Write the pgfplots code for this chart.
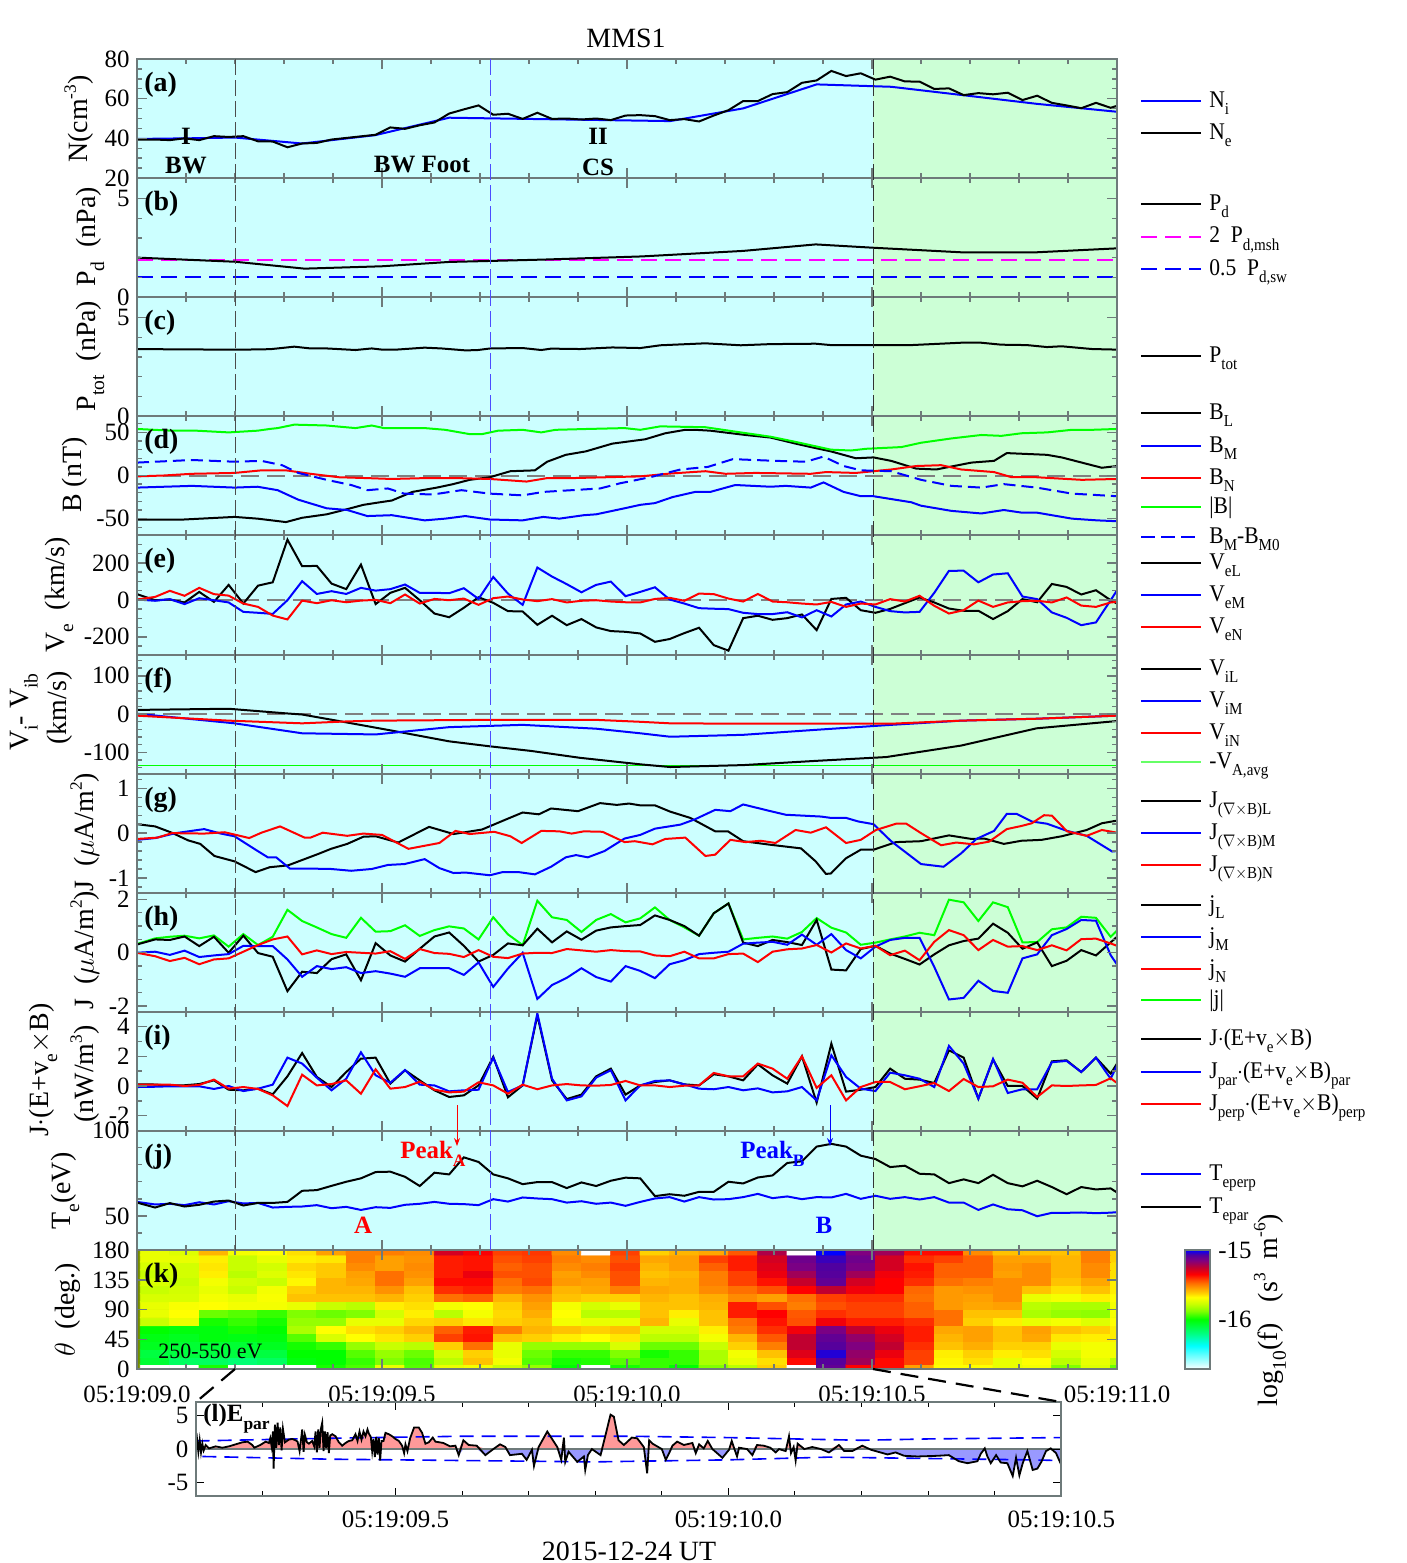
\documentclass[border=0pt]{standalone}
\usepackage{fontspec}
\setmainfont{Liberation Serif}
\usepackage{pgfplots}
\usepackage{pgfplotstable}
\pgfplotsset{compat=1.18}
\usepgfplotslibrary{colormaps}
\usetikzlibrary{arrows.meta}

\definecolor{mshc}{RGB}{204,255,255}
\definecolor{mshg}{RGB}{204,255,214}
\definecolor{axisc}{RGB}{110,122,122}
\definecolor{pinkf}{RGB}{255,153,153}
\definecolor{bluef}{RGB}{153,153,255}
\definecolor{mag}{RGB}{255,0,255}

\newcommand\sub[1]{\raisebox{-.32em}{\scalebox{.7}{#1}}}
\newcommand\sups[1]{\raisebox{.42em}{\scalebox{.62}{#1}}}
\newcommand\lab{\fontsize{14}{16}\selectfont}
\newcommand\txt{\fontsize{12.5}{14}\selectfont}
\newcommand\tkf{\fontsize{12.5}{14}\selectfont}
\newcommand\legf{\fontsize{12}{14}\selectfont}
\newcommand\leg[3]{\draw[#2,line width=1bp] (1141,#1)--(1201,#1);
  \node[anchor=base west,inner sep=0pt,font=\legf] at (1209,#1+6) {\scalebox{.9}[1]{#3}};}
\newcommand\ylab[3]{\node[rotate=90,inner sep=0pt,font=\lab] at (#1,#2) {#3};}
\newcommand\plab[2]{\node[anchor=west,inner sep=0pt,font=\lab\bfseries] at (144,#1+2) {#2};}
\newcommand\greenbg{\fill[mshg] (rel axis cs:0.7515,0) rectangle (rel axis cs:1,1);}
\newcommand\zeroline{\draw[gray,line width=1bp,dash pattern=on 9bp off 4bp] (axis cs:0,0)--(axis cs:2,0);}

\pgfplotsset{
  panel/.style={scale only axis,width=490bp,xmin=0,xmax=2,anchor=south west,
    xtick={0,0.5,1,1.5,2},xticklabels={},
    minor xtick={0.1,0.2,0.3,0.4,0.6,0.7,0.8,0.9,1.1,1.2,1.3,1.4,1.6,1.7,1.8,1.9},
    tick align=inside,major tick length=5bp,minor tick length=2.5bp,
    tick style={color=axisc,line width=.7bp},
    axis line style={color=axisc,line width=1bp},
    axis on top,
    yticklabel style={font=\tkf,inner sep=2bp,xshift=-1.5bp},
    axis background/.style={fill=mshc}},
  kk/.style={line width=1bp,black},
  bb/.style={line width=1bp,blue},
  rr/.style={line width=1bp,red},
  gg/.style={line width=1bp,green},
}

% electron moments and currents, 30 ms cadence
\pgfplotstableread{
t Ne VeL VeM VeN jL jM jN jt JE Jpar Jperp Tperp Tpar
0.000 39.4 31 2 2 0.31 0 0 0.33 0.11 -0.07 0.09 58.2 57.8
0.037 39.4 -2 -5 16 0.5 0.04 -0.13 0.54 0.1 -0.05 0.09 56.7 54.9
0.067 39.1 2 4 49 0.48 -0.08 -0.31 0.6 0.02 -0.02 0.09 57.1 57.5
0.097 40 -14 -23 22 0.61 0.08 -0.19 0.64 0.05 -0.02 0 56.3 55.5
0.127 39.1 43 9 65 0.25 -0.16 -0.43 0.54 0.13 -0.02 0.07 58 56.5
0.157 41.1 -11 -2 31 0.6 -0.1 -0.25 0.65 0.38 -0.2 0.43 56.7 58.4
0.187 40.7 81 -14 23 0 -0.05 -0.21 0.23 -0.25 0 -0.18 58.6 59
0.217 41.1 -20 -65 -20 0.64 0.26 0.04 0.7 -0.29 -0.34 -0.07 57.3 56.1
0.247 38.5 77 -70 -38 -0.01 0.25 0.29 0.29 -0.18 -0.18 -0.2 57.6 57.6
0.277 38.4 95 -76 -85 -0.15 0.25 0.5 0.6 -0.56 0.09 -0.63 54.9 57.6
0.307 35.5 326 -2 -106 -1.44 -0.25 0.61 1.61 0.65 1.91 -1.35 55.3 58.2
0.337 37.4 182 101 -4 -0.71 -0.9 -0.06 1.19 2.22 1.51 0.76 55.5 64.7
0.367 37.7 184 32 -18 -0.76 -0.5 0.09 0.95 0.61 0.56 0.04 56.3 65.1
0.397 39.4 88 47 -2 -0.24 -0.61 -0.05 0.7 -0.07 -0.29 0.13 54.5 67.6
0.427 40.2 58 32 -13 -0.06 -0.54 0.03 0.56 0.94 0.49 0.38 55.3 70
0.457 41 191 65 -4 -1.03 -0.76 0 1.31 1.84 2.27 -0.52 53.5 72
0.487 41.8 -23 50 0 0.36 -0.69 -0.03 0.79 1.91 0.72 1.12 55.1 75.7
0.517 45.5 38 58 -18 -0.1 -0.78 0.06 0.81 0.16 0.22 -0.18 54.7 75.9
0.547 44.8 65 83 29 -0.33 -0.9 -0.23 1.03 1.06 1.08 -0.07 56.5 72.9
0.577 46.6 -2 38 -20 0.15 -0.58 0.14 0.63 0.38 0.09 0.29 57.1 67.5
0.607 48 -74 38 5 0.61 -0.58 -0.01 0.85 -0.29 0.04 -0.25 58.2 75.3
0.637 52.5 -94 36 -2 0.76 -0.58 -0.04 0.99 -0.74 -0.36 -0.43 57.1 74.3
0.667 54.6 -43 63 7 0.26 -0.83 -0.16 0.91 -0.63 -0.29 -0.38 56.9 84.3
0.697 56.6 14 5 -27 -0.33 -0.36 0.1 0.5 0.04 -0.25 0.25 56.3 81.6
0.727 51.9 -16 124 9 -0.08 -1.28 -0.15 1.33 1.96 1.91 0.04 59.8 74.3
0.757 52.4 -61 34 18 0.35 -0.59 -0.2 0.69 -0.76 -0.4 -0.52 58.4 72
0.787 49.8 -63 -27 2 0.28 0 -0.03 0.29 0.04 0.04 0.09 60.8 68.6
0.817 52.9 -135 175 -7 0.9 -1.73 0 1.95 4.76 4.88 -0.22 60.2 69.8
0.847 49.8 -86 126 4 0.39 -1.21 -0.01 1.33 0.38 0.49 0.04 59.8 69.8
0.877 50 -137 85 -14 0.8 -0.94 0.14 1.23 -0.88 -0.97 0.13 57.8 66.3
0.907 49.5 -104 41 -5 0.49 -0.58 0.09 0.78 -0.58 -0.7 0.04 58.6 69.6
0.937 50 -149 81 -2 0.83 -0.91 0.04 1.23 0.65 0.56 0.02 57.1 67.5
0.967 49.2 -169 99 -9 0.95 -1.08 0.1 1.45 1.17 1.06 0.07 57.8 70.6
0.997 51.5 -173 20 -13 1 -0.5 0.06 1.14 -0.58 -0.97 0.34 55.9 72.4
1.027 51.7 -182 43 -14 1.04 -0.68 0.05 1.29 0.04 0.04 0.04 58.2 72
1.057 51.2 -227 68 5 1.4 -0.95 -0.1 1.7 0.27 0.34 0.04 60.2 61.6
1.087 49.2 -212 2 11 1.23 -0.43 -0.13 1.23 0.38 0.38 -0.07 61 62.7
1.117 49.7 -180 -20 -5 1 -0.28 0.04 0.95 0.11 0.11 0.02 58.4 61.8
1.147 48.5 -151 -45 34 0.64 -0.05 -0.21 0.64 0.04 -0.18 0.04 61 64.1
1.177 51.5 -245 -48 31 1.48 0 -0.21 1.48 0.79 -0.22 0.88 59.6 64.1
1.207 54.2 -275 -50 7 1.85 0.04 -0.05 1.85 0.65 -0.07 0.65 59.8 70
1.237 58.8 -99 -70 -9 0.38 0.34 -0.03 0.5 0.38 -0.29 0.65 61 69
1.267 58.8 -86 -77 32 0.25 0.38 -0.35 0.56 1.46 -0.16 1.51 62.9 72.5
1.297 62.3 -108 -77 -9 0.48 0.41 0.04 0.61 0.72 -0.43 1.17 60.4 73.7
1.327 63.3 -99 -67 -13 0.4 0.3 0.13 0.53 0.16 -0.36 0.49 61.4 81
1.357 68 -79 -95 -20 0.29 0.68 0.16 0.78 2 -0.07 2 59.8 82
1.387 69.2 -164 -56 -25 1.23 0.3 0.29 1.3 -1.12 -0.97 -0.13 61 90.6
1.417 74 5 -90 -11 -0.63 0.7 0.01 0.94 2.85 2.07 0.72 60.8 92.2
1.447 71.4 11 -25 -38 -0.66 0.1 0.35 0.76 -0.38 0.61 -0.97 62.9 90.6
1.477 72.8 -56 -9 -20 0.14 -0.21 0.16 0.3 -0.25 -0.18 -0.07 60 85.3
1.507 69.6 -70 -38 -25 0.26 0.23 0.26 0.38 -0.07 -0.34 0.27 61.8 83.3
1.537 71.1 -49 -61 4 -0.03 0.48 -0.09 0.5 1.17 0.9 0.27 60 78.6
1.567 68.7 -18 -68 -9 -0.23 0.56 0.08 0.61 0.49 0.72 -0.22 61 79.4
1.597 68.6 13 -65 22 -0.44 0.56 -0.28 0.75 0.43 0.49 -0.02 59.6 74.7
1.627 64.9 -14 38 -32 -0.06 -0.53 0.41 0.66 0.2 -0.07 0.2 61 74.3
1.657 65.2 -47 157 -74 0.28 -1.75 0.85 1.99 2.4 2.7 -0.34 57.8 69.2
1.687 61.8 -59 158 -56 0.44 -1.69 0.66 1.89 1.91 1.51 0.47 57.8 71.4
1.717 62.8 -59 95 -4 0.53 -1.05 0.1 1.19 -0.85 -0.85 -0.07 53.5 69.2
1.747 62.2 -104 137 -38 1.09 -1.43 0.48 1.89 1.78 1.82 -0.02 56.7 74.1
1.777 63 -61 144 -14 0.75 -1.5 0.23 1.71 0 -0.47 0.43 53.9 69.2
1.807 59.3 4 18 -7 0.15 -0.21 0.25 0.39 0 -0.22 0.22 53.3 67.3
1.837 61.5 -13 4 -5 0.39 -0.06 0.1 0.4 -0.85 -0.22 -0.74 49.8 70.6
1.867 57.9 86 -68 -14 -0.5 0.66 0.28 0.88 1.66 1.6 0.04 51.8 66.9
1.897 56.6 70 -97 13 -0.3 0.89 0.09 0.95 1.73 1.69 0 51.8 62.7
1.927 55.2 29 -137 -31 0.1 1.23 0.51 1.35 0.94 0.94 0.04 52 66.9
1.957 57.9 52 -122 -38 -0.1 1.2 0.53 1.31 1.91 1.91 0.07 51.6 65.5
1.987 55.4 -2 -2 -14 0.39 -0.09 0.35 0.6 0.83 0.49 0.52 51.9 66.1
2.000 56.4 -20 52 -11 0.6 -0.44 0.26 0.83 1.51 1.39 0.2 52.2 63.7
}\fast

\begin{document}
\begin{tikzpicture}[x=.5bp,y=-.5bp]
\path[use as bounding box] (0,0) rectangle (1407,1563);

% (a) density
\begin{axis}[panel,at={(68.5bp,-89bp)},height=59.5bp,ymin=20,ymax=80,ytick={20,40,60,80},
  yticklabels={20,40,60,80},minor ytick={25,30,35,45,50,55,65,70,75}]
\greenbg
\addplot[bb] coordinates {(0,39.7)(0.1,40)(0.2,40.4)(0.337,37.4)(0.486,41.6)(0.637,50.4)(1.088,48.7)(1.237,55.1)(1.387,67.2)(1.539,66)(1.695,61.5)(1.836,57.4)(2,53.4)};
\addplot[kk] table[x=t,y=Ne] {\fast};
\end{axis}

% (b) dynamic pressure
\begin{axis}[panel,at={(68.5bp,-148.5bp)},height=59.5bp,ymin=0,ymax=6.04,ytick={0,5},yticklabels={0,5},minor ytick={1,2,3,4}]
\greenbg
\addplot[line width=1bp,mag,dash pattern=on 8bp off 4bp] coordinates {(0,1.9)(2,1.9)};
\addplot[line width=1bp,blue,dash pattern=on 8bp off 4bp] coordinates {(0,1)(2,1)};
\addplot[kk] coordinates {(0,2)(0.2,1.79)(0.342,1.44)(0.5,1.56)(0.637,1.78)(0.72,1.83)(0.83,1.9)(1.03,2.06)(1.237,2.34)(1.385,2.67)(1.503,2.5)(1.682,2.27)(1.836,2.27)(2,2.47)};
\end{axis}

% (c) total pressure
\begin{axis}[panel,at={(68.5bp,-208bp)},height=59.5bp,ymin=0,ymax=6.04,ytick={0,5},yticklabels={0,5},minor ytick={1,2,3,4}]
\greenbg
\addplot[kk] coordinates {(0,3.4)(0.096,3.38)(0.199,3.37)(0.254,3.38)(0.275,3.4)(0.321,3.52)(0.354,3.43)(0.387,3.43)(0.446,3.35)(0.479,3.43)(0.5,3.37)(0.529,3.37)(0.587,3.47)(0.621,3.43)(0.671,3.33)(0.696,3.35)(0.721,3.43)(0.787,3.45)(0.825,3.35)(0.845,3.42)(0.904,3.4)(0.97,3.48)(1.027,3.45)(1.068,3.59)(1.16,3.69)(1.232,3.59)(1.293,3.65)(1.385,3.67)(1.416,3.6)(1.503,3.6)(1.58,3.6)(1.682,3.72)(1.723,3.72)(1.764,3.62)(1.816,3.6)(1.857,3.5)(1.887,3.54)(1.949,3.4)(2,3.37)};
\end{axis}

% (d) magnetic field
\begin{axis}[panel,at={(68.5bp,-267.5bp)},height=59.5bp,ymin=-69,ymax=69,ytick={-50,0,50},yticklabels={-50,0,50},
  minor ytick={-60,-40,-30,-20,-10,10,20,30,40,60}]
\greenbg
\zeroline
\addplot[kk] coordinates {(0,-51)(0.096,-51)(0.199,-48)(0.246,-50)(0.304,-54)(0.337,-49)(0.387,-45)(0.429,-39)(0.462,-34)(0.496,-31)(0.52,-29)(0.562,-19)(0.612,-14)(0.645,-10)(0.679,-5)(0.72,-2)(0.762,5)(0.812,6)(0.837,16)(0.875,24)(0.916,28)(0.97,37)(1.037,42)(1.078,49)(1.119,53)(1.139,53)(1.17,52)(1.242,47)(1.293,44)(1.344,37)(1.375,33)(1.416,28)(1.467,20)(1.503,21)(1.539,17)(1.59,8)(1.631,7)(1.703,15)(1.749,17)(1.775,26)(1.857,24)(1.887,21)(1.969,9)(2,11)};
\addplot[bb] coordinates {(0,-14)(0.112,-12)(0.199,-14)(0.246,-13)(0.287,-17)(0.329,-28)(0.387,-38)(0.429,-40)(0.47,-47)(0.52,-46)(0.587,-52)(0.629,-50)(0.67,-47)(0.72,-51)(0.787,-52)(0.829,-48)(0.862,-50)(0.912,-46)(0.937,-45)(0.995,-38)(1.027,-34)(1.057,-32)(1.093,-25)(1.139,-19)(1.17,-19)(1.221,-11)(1.293,-13)(1.324,-12)(1.375,-14)(1.401,-8)(1.442,-19)(1.477,-24)(1.503,-24)(1.58,-31)(1.6,-35)(1.662,-41)(1.723,-44)(1.769,-40)(1.805,-43)(1.836,-43)(1.908,-50)(1.959,-52)(2,-53)};
\addplot[gg] coordinates {(0,54)(0.071,52)(0.121,52)(0.187,50)(0.246,52)(0.271,54)(0.287,55)(0.321,59)(0.387,58)(0.446,55)(0.479,58)(0.504,55)(0.587,55)(0.629,53)(0.679,48)(0.704,48)(0.737,52)(0.787,53)(0.825,50)(0.854,53)(0.92,54)(0.995,55)(1.027,53)(1.068,57)(1.16,56)(1.232,50)(1.293,45)(1.344,39)(1.416,30)(1.457,29)(1.488,31)(1.56,33)(1.6,38)(1.662,43)(1.723,47)(1.764,46)(1.805,49)(1.857,50)(1.908,53)(1.949,53)(2,54)};
\addplot[rr] coordinates {(0,-1)(0.054,0)(0.112,2)(0.199,3)(0.254,6)(0.304,6)(0.354,2)(0.412,-2)(0.47,-3)(0.52,-4)(0.587,-3)(0.654,-3)(0.72,-4)(0.795,-7)(0.837,-3)(0.887,-3)(1.027,-1)(1.088,2.3)(1.16,5)(1.201,2)(1.262,3)(1.375,2)(1.406,4)(1.467,3)(1.539,7)(1.59,11)(1.641,12)(1.682,7)(1.749,4)(1.785,-2)(1.836,-2)(1.928,-5)(2,-4)};
\addplot[line width=1bp,blue,dash pattern=on 6bp off 3bp] coordinates {(0,15)(0.112,18)(0.199,16)(0.254,17)(0.296,12)(0.329,3)(0.387,-5)(0.437,-11)(0.47,-17)(0.512,-15)(0.545,-21)(0.604,-22)(0.662,-17)(0.72,-21)(0.787,-23)(0.829,-19)(0.887,-17)(0.945,-15)(0.986,-9)(1.047,-2)(1.109,7)(1.165,10)(1.216,19)(1.303,17)(1.365,16)(1.401,22)(1.442,11)(1.477,6)(1.539,5)(1.6,-5)(1.662,-12)(1.723,-14)(1.769,-10)(1.836,-14)(1.908,-21)(2,-24)};
\end{axis}

% (e) electron velocity
\begin{axis}[panel,at={(68.5bp,-327.35bp)},height=59.85bp,ymin=-297,ymax=351,ytick={-200,0,200},yticklabels={-200,0,200},
  minor ytick={-250,-150,-100,-50,50,100,150,250,300}]
\greenbg
\zeroline
\addplot[kk] table[x=t,y=VeL] {\fast};
\addplot[bb] table[x=t,y=VeM] {\fast};
\addplot[rr] table[x=t,y=VeN] {\fast};
\end{axis}

% (f) ion velocity
\begin{axis}[panel,at={(68.5bp,-386.75bp)},height=59.4bp,ymin=-155,ymax=155,ytick={-100,0,100},yticklabels={-100,0,100},
  minor ytick={-140,-120,-80,-60,-40,-20,20,40,60,80,120,140}]
\greenbg
\zeroline
\addplot[line width=.5bp,green] coordinates {(0,-133)(2,-133)};
\addplot[kk] coordinates {(0,11)(0.187,14)(0.304,2)(0.337,-1)(0.412,-18)(0.52,-43)(0.637,-71)(0.72,-84)(0.804,-96)(0.904,-114)(1.027,-131)(1.088,-138)(1.237,-133)(1.385,-122)(1.529,-112)(1.682,-82)(1.836,-37)(2,-18)};
\addplot[bb] coordinates {(0,1)(0.199,-24)(0.337,-50)(0.487,-53)(0.637,-34)(0.787,-28)(0.937,-38)(1.027,-50)(1.088,-59)(1.237,-54)(1.385,-41)(1.539,-28)(1.682,-17)(1.836,-12)(2,-4)};
\addplot[rr] coordinates {(0,-4)(0.187,-17)(0.337,-24)(0.429,-19)(0.487,-17)(0.72,-15)(0.937,-15)(1.027,-20)(1.088,-24)(1.237,-25)(1.385,-25)(1.539,-25)(1.682,-17)(1.836,-12)(2,-4)};
\end{axis}

% (g) curl B current
\begin{axis}[panel,at={(68.5bp,-446.35bp)},height=59.6bp,ymin=-1.33,ymax=1.33,ytick={-1,0,1},yticklabels={-1,0,1},
  minor ytick={-1.2,-0.8,-0.6,-0.4,-0.2,0.2,0.4,0.6,0.8,1.2}]
\greenbg
\addplot[kk] coordinates {(0,0.2)(0.037,0.15)(0.071,0.01)(0.104,-0.16)(0.129,-0.24)(0.158,-0.51)(0.199,-0.63)(0.242,-0.87)(0.271,-0.76)(0.308,-0.72)(0.337,-0.6)(0.371,-0.46)(0.396,-0.35)(0.429,-0.24)(0.462,-0.08)(0.487,-0.07)(0.533,-0.21)(0.596,0.14)(0.646,-0.02)(0.704,0.08)(0.754,0.31)(0.787,0.46)(0.82,0.42)(0.845,0.55)(0.9,0.49)(0.945,0.67)(0.979,0.63)(1.004,0.66)(1.027,0.62)(1.057,0.62)(1.088,0.48)(1.129,0.34)(1.18,0.04)(1.206,0.04)(1.237,-0.18)(1.293,-0.26)(1.355,-0.34)(1.385,-0.63)(1.406,-0.91)(1.416,-0.9)(1.447,-0.56)(1.477,-0.37)(1.503,-0.37)(1.549,-0.2)(1.6,-0.18)(1.657,-0.05)(1.703,-0.13)(1.729,-0.12)(1.769,-0.24)(1.805,-0.17)(1.846,-0.15)(1.887,-0.07)(1.938,0.07)(1.969,0.22)(2,0.28)};
\addplot[bb] coordinates {(0,-0.15)(0.037,-0.11)(0.079,0)(0.137,0.09)(0.171,-0.01)(0.199,-0.07)(0.242,-0.37)(0.267,-0.54)(0.284,-0.54)(0.312,-0.79)(0.346,-0.79)(0.396,-0.8)(0.437,-0.84)(0.479,-0.8)(0.512,-0.71)(0.546,-0.69)(0.587,-0.58)(0.617,-0.78)(0.646,-0.89)(0.671,-0.88)(0.72,-0.94)(0.746,-0.87)(0.779,-0.87)(0.812,-0.92)(0.845,-0.75)(0.875,-0.54)(0.896,-0.49)(0.92,-0.54)(0.954,-0.4)(0.995,-0.12)(1.027,-0.04)(1.057,0.1)(1.109,0.19)(1.139,0.31)(1.18,0.52)(1.211,0.49)(1.237,0.64)(1.293,0.49)(1.324,0.41)(1.396,0.37)(1.416,0.34)(1.447,0.34)(1.472,0.26)(1.503,0.2)(1.539,-0.18)(1.6,-0.69)(1.646,-0.75)(1.682,-0.45)(1.713,-0.13)(1.749,0.05)(1.775,0.43)(1.795,0.43)(1.826,0.26)(1.857,0.21)(1.898,0.05)(1.938,-0.06)(1.99,-0.41)(2,-0.4)};
\addplot[rr] coordinates {(0,-0.13)(0.042,-0.1)(0.071,0)(0.137,-0.01)(0.179,0.02)(0.229,-0.11)(0.254,0.01)(0.292,0.15)(0.342,-0.1)(0.354,-0.1)(0.379,0.01)(0.429,-0.06)(0.462,-0.01)(0.5,-0.04)(0.554,-0.35)(0.617,-0.22)(0.65,0.05)(0.679,-0.02)(0.729,0.03)(0.762,-0.07)(0.785,-0.22)(0.825,0.05)(0.862,0.04)(0.887,-0.01)(0.912,0.04)(0.95,0.03)(0.995,-0.2)(1.016,-0.18)(1.052,-0.25)(1.078,-0.13)(1.119,-0.1)(1.16,-0.51)(1.18,-0.48)(1.211,-0.15)(1.242,-0.2)(1.273,-0.17)(1.303,-0.22)(1.344,0.07)(1.375,0.01)(1.406,0.13)(1.447,-0.22)(1.477,-0.15)(1.508,0.07)(1.549,0.21)(1.57,0.21)(1.6,0)(1.641,-0.27)(1.672,-0.21)(1.708,-0.25)(1.739,-0.19)(1.775,0.09)(1.805,0.16)(1.826,0.22)(1.851,0.4)(1.867,0.39)(1.898,0.04)(1.938,-0.06)(1.969,0.07)(2,0.01)};
\end{axis}

% (h) particle current
\begin{axis}[panel,at={(68.5bp,-505.85bp)},height=59.5bp,ymin=-2.21,ymax=2.25,ytick={-2,0,2},yticklabels={-2,0,2},
  minor ytick={-1.5,-1,-0.5,0.5,1,1.5}]
\greenbg
\addplot[gg] table[x=t,y=jt] {\fast};
\addplot[kk] table[x=t,y=jL] {\fast};
\addplot[bb] table[x=t,y=jM] {\fast};
\addplot[rr] table[x=t,y=jN] {\fast};
\end{axis}

% (i) J dot E
\begin{axis}[panel,at={(68.5bp,-565.25bp)},height=59.4bp,ymin=-3,ymax=5,ytick={-2,0,2,4},yticklabels={-2,0,2,4},
  minor ytick={-1,1,3}]
\greenbg
\addplot[kk] table[x=t,y=JE] {\fast};
\addplot[bb] table[x=t,y=Jpar] {\fast};
\addplot[rr] table[x=t,y=Jperp] {\fast};
\end{axis}

% (j) electron temperature
\begin{axis}[panel,at={(68.5bp,-625bp)},height=59.75bp,ymin=30,ymax=100,ytick={50,100},yticklabels={50,100},
  minor ytick={40,60,70,80,90}]
\greenbg
\addplot[bb] table[x=t,y=Tperp] {\fast};
\addplot[kk] table[x=t,y=Tpar] {\fast};
\end{axis}

% (k) pitch angle distribution: one line per time column, bottom to top
\begin{axis}[panel,at={(68.5bp,-684.65bp)},height=59.65bp,ymin=0,ymax=180,ytick={0,45,90,135,180},yticklabels={0,45,90,135,180},
  axis background/.style={fill={rgb:red,216;green,255;blue,0}},
  xticklabels={05:19:09.0,05:19:09.5,05:19:10.0,05:19:10.5,05:19:11.0},
  xticklabel style={font=\tkf,yshift=-5bp},
  colormap={wave}{rgb255(0pt)=(255,255,255); rgb255(34pt)=(0,255,255); rgb255(52pt)=(0,255,128); rgb255(72pt)=(0,255,0);
    rgb255(84pt)=(128,255,0); rgb255(94pt)=(200,255,0); rgb255(104pt)=(255,255,0); rgb255(110pt)=(255,208,0);
    rgb255(117pt)=(255,160,0); rgb255(124pt)=(255,112,0); rgb255(130pt)=(255,64,0); rgb255(137pt)=(255,0,0);
    rgb255(147pt)=(192,0,48); rgb255(157pt)=(128,0,128); rgb255(165pt)=(80,0,160); rgb255(172pt)=(0,0,255)},
  point meta min=-16.72,point meta max=-15,
  colorbar right,
  colorbar style={at={(parent axis.south east)},anchor=south west,xshift=25.5bp,scale only axis,width=12.5bp,height=59.65bp,
    ytick={-16,-15},yticklabels={-16,-15},yticklabel pos=right,
    major tick length=0pt,axis line style={color=axisc,line width=1bp},
    yticklabel style={font=\tkf,inner sep=2bp,xshift=2bp}}]
\addplot[matrix plot*,mesh/rows=16,mesh/cols=34,mesh/ordering=y varies,point meta=explicit]
 table[row sep=\\,meta=c,x expr={0.0367+0.06*floor((\coordindex+0.5)/16)},y expr={min(max(12*round(\coordindex-16*floor((\coordindex+0.5)/16)),3),177)}] {
c\\
-16.72\\-16.08\\-16.1\\-16.05\\-16.03\\-16\\-15.78\\-15.72\\-15.72\\-15.75\\-15.78\\-15.75\\-15.78\\-15.75\\-15.72\\-15.72\\
-16.72\\-16.15\\-16.1\\-16.08\\-16.05\\-16.02\\-15.72\\-15.68\\-15.69\\-15.75\\-15.76\\-15.78\\-15.76\\-15.76\\-15.72\\-15.74\\
-15.98\\-16.15\\-16.1\\-16.08\\-16.02\\-16.02\\-15.98\\-15.9\\-15.68\\-15.7\\-15.72\\-15.7\\-15.66\\-15.65\\-15.66\\-15.58\\
-16.72\\-16.18\\-16.1\\-16.08\\-16.03\\-15.98\\-15.95\\-15.92\\-15.7\\-15.72\\-15.78\\-15.76\\-15.8\\-15.78\\-15.78\\-15.7\\
-16.72\\-16.15\\-16.1\\-16.05\\-16.02\\-16\\-15.98\\-15.95\\-15.7\\-15.69\\-15.7\\-15.78\\-15.74\\-15.76\\-15.72\\-15.68\\
-16.72\\-16.02\\-16\\-15.98\\-15.92\\-15.82\\-15.85\\-15.88\\-15.72\\-15.6\\-15.62\\-15.67\\-15.65\\-15.63\\-15.66\\-15.64\\
-15.98\\-16\\-16\\-15.95\\-15.75\\-15.68\\-15.85\\-15.9\\-15.78\\-15.6\\-15.58\\-15.58\\-15.61\\-15.61\\-15.65\\-15.55\\
-15.93\\-15.95\\-15.92\\-15.85\\-15.68\\-15.64\\-15.72\\-15.88\\-15.8\\-15.6\\-15.58\\-15.56\\-15.55\\-15.52\\-15.5\\-15.5\\
-15.72\\-15.88\\-15.85\\-15.78\\-15.65\\-15.62\\-15.72\\-15.76\\-15.66\\-15.58\\-15.53\\-15.48\\-15.48\\-15.55\\-15.55\\-15.5\\
-15.92\\-15.93\\-15.9\\-15.8\\-15.62\\-15.58\\-15.63\\-15.66\\-15.64\\-15.62\\-15.6\\-15.55\\-15.53\\-15.52\\-15.53\\-15.52\\
-15.72\\-15.8\\-15.76\\-15.62\\-15.42\\-15.46\\-15.62\\-15.8\\-15.7\\-15.48\\-15.4\\-15.36\\-15.38\\-15.38\\-15.38\\-15.28\\
-15.7\\-15.6\\-15.62\\-15.48\\-15.37\\-15.38\\-15.65\\-15.7\\-15.68\\-15.46\\-15.38\\-15.36\\-15.32\\-15.37\\-15.37\\-15.34\\
-15.78\\-15.7\\-15.72\\-15.72\\-15.6\\-15.5\\-15.62\\-15.63\\-15.62\\-15.58\\-15.5\\-15.48\\-15.44\\-15.46\\-15.44\\-15.42\\
-15.85\\-15.92\\-15.9\\-15.85\\-15.62\\-15.58\\-15.6\\-15.57\\-15.55\\-15.53\\-15.48\\-15.43\\-15.44\\-15.44\\-15.42\\-15.41\\
-16\\-15.98\\-15.95\\-15.85\\-15.66\\-15.6\\-15.7\\-15.68\\-15.7\\-15.6\\-15.58\\-15.54\\-15.55\\-15.52\\-15.5\\-15.52\\
-16.72\\-15.97\\-15.95\\-15.85\\-15.68\\-15.62\\-15.72\\-15.8\\-15.76\\-15.62\\-15.56\\-15.55\\-15.52\\-15.5\\-15.52\\-16.72\\
-15.98\\-15.92\\-15.88\\-15.75\\-15.65\\-15.6\\-15.72\\-15.8\\-15.72\\-15.62\\-15.5\\-15.44\\-15.44\\-15.42\\-15.44\\-15.42\\
-15.95\\-15.95\\-15.98\\-15.9\\-15.8\\-15.76\\-15.58\\-15.6\\-15.6\\-15.58\\-15.56\\-15.58\\-15.6\\-15.58\\-15.56\\-15.62\\
-16\\-15.95\\-15.95\\-15.9\\-15.8\\-15.76\\-15.72\\-15.66\\-15.6\\-15.6\\-15.57\\-15.57\\-15.58\\-15.55\\-15.55\\-15.58\\
-15.88\\-15.82\\-15.82\\-15.78\\-15.7\\-15.66\\-15.6\\-15.6\\-15.58\\-15.57\\-15.52\\-15.5\\-15.5\\-15.46\\-15.42\\-15.56\\
-15.8\\-15.72\\-15.7\\-15.62\\-15.58\\-15.5\\-15.48\\-15.38\\-15.38\\-15.52\\-15.48\\-15.42\\-15.42\\-15.38\\-15.38\\-15.45\\
-15.62\\-15.64\\-15.6\\-15.5\\-15.45\\-15.4\\-15.37\\-15.35\\-15.44\\-15.55\\-15.44\\-15.37\\-15.32\\-15.3\\-15.28\\-15.22\\
-16.72\\-15.36\\-15.3\\-15.25\\-15.25\\-15.33\\-15.44\\-15.45\\-15.5\\-15.48\\-15.35\\-15.26\\-15.2\\-15.14\\-15.12\\-16.72\\
-15.1\\-15.08\\-15.03\\-15.08\\-15.1\\-15.14\\-15.33\\-15.4\\-15.44\\-15.42\\-15.25\\-15.1\\-15.08\\-15.07\\-15.05\\-15\\
-15.35\\-15.2\\-15.18\\-15.15\\-15.18\\-15.25\\-15.38\\-15.42\\-15.42\\-15.4\\-15.33\\-15.28\\-15.2\\-15.14\\-15.12\\-15.15\\
-15.36\\-15.36\\-15.32\\-15.25\\-15.28\\-15.32\\-15.38\\-15.42\\-15.42\\-15.4\\-15.35\\-15.35\\-15.33\\-15.28\\-15.28\\-15.2\\
-15.55\\-15.42\\-15.42\\-15.4\\-15.38\\-15.38\\-15.4\\-15.46\\-15.46\\-15.48\\-15.47\\-15.4\\-15.38\\-15.37\\-15.4\\-15.36\\
-15.68\\-15.67\\-15.66\\-15.6\\-15.58\\-15.56\\-15.48\\-15.48\\-15.54\\-15.54\\-15.54\\-15.48\\-15.46\\-15.46\\-15.42\\-15.36\\
-15.68\\-15.64\\-15.62\\-15.57\\-15.55\\-15.55\\-15.62\\-15.6\\-15.56\\-15.55\\-15.53\\-15.5\\-15.46\\-15.46\\-15.46\\-15.52\\
-15.72\\-15.72\\-15.66\\-15.62\\-15.6\\-15.6\\-15.66\\-15.6\\-15.55\\-15.52\\-15.52\\-15.52\\-15.55\\-15.54\\-15.55\\-15.6\\
-15.7\\-15.68\\-15.64\\-15.62\\-15.56\\-15.55\\-15.72\\-15.82\\-15.8\\-15.72\\-15.6\\-15.52\\-15.52\\-15.52\\-15.55\\-15.6\\
-15.88\\-15.8\\-15.76\\-15.72\\-15.65\\-15.6\\-15.7\\-15.85\\-15.82\\-15.7\\-15.64\\-15.6\\-15.58\\-15.58\\-15.58\\-15.6\\
-15.74\\-15.72\\-15.7\\-15.7\\-15.66\\-15.62\\-15.74\\-15.86\\-15.82\\-15.66\\-15.6\\-15.56\\-15.52\\-15.52\\-15.5\\-15.5\\
-15.9\\-15.8\\-15.7\\-15.7\\-15.66\\-15.66\\-15.68\\-15.7\\-15.7\\-15.68\\-15.66\\-15.66\\-15.64\\-15.64\\-15.62\\-15.62\\
};
\end{axis}

% (l) parallel electric field, zoomed
\begin{axis}[scale only axis,at={(97.85bp,-748bp)},anchor=south west,width=432.8bp,height=47bp,xmin=0.2,xmax=1.5,ymin=-6.97,ymax=6.97,
  xtick={0.5,1,1.5},xticklabels={05:19:09.5,05:19:10.0,05:19:10.5},
  minor xtick={0.3,0.4,0.6,0.7,0.8,0.9,1.1,1.2,1.3,1.4},
  ytick={-5,0,5},yticklabels={-5,0,5},
  tick align=inside,major tick length=4bp,minor tick length=2.5bp,
  tick style={color=black,line width=.5bp},
  axis line style={color=axisc,line width=1bp},axis on top,
  xticklabel style={font=\tkf,yshift=-4bp},yticklabel style={font=\tkf,inner sep=2bp,xshift=-1.5bp}]
\pgfplotstableread{
t e
0.200 0.5
0.202 1.5
0.204 -0.4
0.206 1.3
0.208 -0.5
0.210 0.8
0.212 -0.2
0.215 0.6
0.220 0.1
0.230 0.4
0.240 0.2
0.250 0.4
0.260 0.7
0.270 1.0
0.278 1.1
0.285 0.6
0.288 0.2
0.297 0.6
0.305 1.1
0.310 0.9
0.312 1.6
0.314 0.4
0.316 2.6
0.317 -2.9
0.319 3.6
0.321 0.2
0.323 3.9
0.325 0.6
0.327 3.2
0.329 -0.2
0.331 3.0
0.334 1.0
0.340 1.4
0.345 1.5
0.350 1.3
0.353 1.1
0.356 -0.3
0.360 2.9
0.362 -0.4
0.364 2.1
0.367 1.0
0.370 0.8
0.375 1.2
0.378 0.4
0.380 2.6
0.382 -0.5
0.384 2.9
0.386 0.2
0.388 3.0
0.390 3.9
0.392 -0.3
0.394 2.6
0.396 0.1
0.398 2.5
0.400 -0.6
0.402 2.0
0.405 2.2
0.410 1.9
0.415 1.0
0.420 0.5
0.425 0.9
0.430 1.2
0.435 1.3
0.440 2.2
0.443 1.2
0.446 2.6
0.449 1.4
0.452 2.6
0.455 1.9
0.458 2.9
0.460 2.3
0.463 1.8
0.465 -0.3
0.467 1.5
0.469 -1.2
0.471 1.8
0.473 -0.8
0.475 1.6
0.477 -1.7
0.479 1.2
0.482 1.2
0.485 2.4
0.490 2.2
0.495 1.9
0.500 1.5
0.505 1.2
0.510 0.5
0.513 -0.6
0.515 0.7
0.518 -0.3
0.522 1.6
0.528 3.2
0.535 3.2
0.540 2.4
0.545 0.8
0.550 1.0
0.556 1.7
0.560 1.1
0.572 0.9
0.582 0.4
0.590 0.5
0.595 -0.9
0.602 1.3
0.610 0.6
0.622 0.5
0.635 -0.9
0.647 0
0.657 0.7
0.665 0.3
0.672 -0.9
0.690 -0.7
0.697 -1.6
0.705 -0.1
0.708 -2.5
0.715 0.3
0.728 2.6
0.743 0.3
0.749 -1.6
0.753 1.7
0.755 -1.9
0.760 -0.4
0.773 -1.9
0.783 -1.1
0.785 -3.1
0.789 -0.9
0.795 0
0.808 -0.9
0.813 1.1
0.823 5.1
0.828 4.8
0.835 1.3
0.843 0.6
0.855 1.7
0.863 1.6
0.873 0.3
0.878 -3.6
0.881 1.3
0.886 0.8
0.900 0
0.906 -1.6
0.911 -0.6
0.916 0.5
0.923 1.1
0.933 0.6
0.946 0.9
0.951 -0.6
0.956 0.7
0.963 0.1
0.969 1.2
0.976 0
0.991 -1.3
1.001 -0.1
1.005 1.2
1.008 0.3
1.013 -1.1
1.016 0.2
1.028 0
1.036 -0.9
1.043 0.6
1.053 0.5
1.063 0.2
1.071 -0.5
1.076 0
1.086 -0.3
1.091 1.9
1.094 -0.6
1.098 0.3
1.101 -1.7
1.104 0.8
1.114 0
1.126 0.3
1.139 0
1.151 -0.5
1.166 0.6
1.174 -0.3
1.186 -0.3
1.201 0.5
1.214 -0.1
1.239 -0.8
1.251 -0.5
1.264 -1
1.284 -1.1
1.314 -1
1.331 -0.9
1.346 -1.8
1.359 -2.1
1.374 -1.8
1.379 -0.7
1.385 0.1
1.389 -1.1
1.394 -2.1
1.402 -0.9
1.409 -2
1.419 -2.1
1.427 -4
1.432 -1.3
1.437 -3.9
1.442 -2.1
1.449 -0.3
1.457 -3.1
1.464 -2.9
1.470 -1.9
1.477 -0.3
1.484 0.1
1.492 -0.6
1.501 -2.6
}\Epar
\addplot[fill=pinkf,draw=none] table[x=t,y expr={max(\thisrow{e},0)}] {\Epar} \closedcycle;
\addplot[fill=bluef,draw=none] table[x=t,y expr={min(\thisrow{e},0)}] {\Epar} \closedcycle;
\draw[axisc,line width=.8bp] (axis cs:0.2,0)--(axis cs:1.5,0);
\addplot[line width=.8bp,blue,dash pattern=on 7bp off 4bp] coordinates {(0.2,1.2)(0.4,1.6)(0.6,1.9)(0.85,1.9)(1,1.7)(1.2,1.3)(1.3,1.5)(1.5,1.7)};
\addplot[line width=.8bp,blue,dash pattern=on 7bp off 4bp] coordinates {(0.21,-1.1)(0.4,-1.5)(0.6,-1.7)(0.8,-1.9)(1,-1.6)(1.15,-1.2)(1.3,-1.4)(1.45,-1.6)(1.5,-1.7)};
\addplot[line width=.9bp,black] table[x=t,y=e] {\Epar};
\end{axis}

% event markers across the panels
\draw[black!70,line width=.5bp,dash pattern=on 8bp off 2.5bp] (235,59)--(235,1250);
\draw[black!80,line width=.5bp,dash pattern=on 8bp off 2.5bp] (873.5,59)--(873.5,1250);
\draw[blue!70,line width=.5bp,dash pattern=on 8bp off 2.5bp] (490.6,59)--(490.6,1250);
\draw[black,line width=1.1bp,dash pattern=on 9bp off 5bp] (235,1369)--(196,1402);
\draw[black,line width=1.1bp,dash pattern=on 9bp off 5bp] (873,1369)--(1061,1402);

% panel tags
\plab{83}{(a)}\plab{202}{(b)}\plab{321}{(c)}\plab{440}{(d)}\plab{559}{(e)}\plab{679}{(f)}
\plab{798}{(g)}\plab{917}{(h)}\plab{1036}{(i)}\plab{1155}{(j)}\plab{1274}{(k)}
\node[anchor=west,inner sep=0pt,font=\txt\bfseries] at (203,1419) {(l)E\sub{par}};

\node[font=\fontsize{14}{16}\selectfont] at (626,38) {MMS1};
\node[font=\fontsize{14}{16}\selectfont] at (629,1551) {2015-12-24 UT};
\node[font=\txt\bfseries] at (186,136) {I};
\node[font=\txt\bfseries] at (186,166) {BW};
\node[font=\txt\bfseries] at (422,165) {BW Foot};
\node[font=\txt\bfseries] at (598,136) {II};
\node[font=\txt\bfseries] at (598,167) {CS};
\node[anchor=west,inner sep=0pt,font=\txt\bfseries,red] at (400,1154) {Peak\sub{A}};
\node[anchor=west,inner sep=0pt,font=\txt\bfseries,blue] at (740,1154) {Peak\sub{B}};
\node[font=\txt\bfseries,red] at (363,1225) {A};
\node[font=\txt\bfseries,blue] at (824,1225) {B};
\node[anchor=west,inner sep=0pt,font=\fontsize{11}{12}\selectfont] at (158,1351) {250-550 eV};
\draw[red,line width=.5bp,-{Stealth[length=4bp,width=3bp]}] (457,1105)--(457,1146);
\draw[blue,line width=.5bp,-{Stealth[length=4bp,width=3bp]}] (830,1105)--(830,1146);

% axis titles
\ylab{79}{119}{N(cm\sups{-3})}
\ylab{90}{237}{P\sub{d}\ \ (nPa)}
\ylab{90}{356}{P\sub{tot}\ \ (nPa)}
\ylab{75}{475}{B (nT)}
\ylab{59}{595}{V\sub{e}\ \ (km/s)}
\ylab{24}{712}{V\sub{i}- V\sub{ib}}
\ylab{60}{708}{(km/s)}
\ylab{85}{832}{J\ \ ($\mu$A/m\sups{2})}
\ylab{85}{950}{J\ \ ($\mu$A/m\sups{2})}
\ylab{43}{1070}{J$\cdot$(E+v\sub{e}$\times$B)}
\ylab{85}{1074}{(nW/m\sups{3})}
\ylab{65}{1191}{T\sub{e}(eV)}
\ylab{68}{1310}{$\theta$\ \ (deg.)}
\ylab{1270}{1310}{log\sub{10}(f)\ \ \ (s\sups{3}\ \ m\sups{-6})}

% key
\leg{101}{blue}{N\sub{i}}
\leg{133}{black}{N\sub{e}}
\leg{204}{black}{P\sub{d}}
\leg{236.5}{mag,dash pattern=on 8bp off 4bp}{2\ \ P\sub{d,msh}}
\leg{269}{blue,dash pattern=on 8bp off 4bp}{0.5\ \ P\sub{d,sw}}
\leg{356}{black}{P\sub{tot}}
\leg{413}{black}{B\sub{L}}
\leg{446}{blue}{B\sub{M}}
\leg{478}{red}{B\sub{N}}
\leg{507}{green}{|B|}
\leg{537}{blue,dash pattern=on 7bp off 3bp}{B\sub{M}-B\sub{M0}}
\leg{563}{black}{V\sub{eL}}
\leg{595}{blue}{V\sub{eM}}
\leg{627}{red}{V\sub{eN}}
\leg{669}{black}{V\sub{iL}}
\leg{701}{blue}{V\sub{iM}}
\leg{733}{red}{V\sub{iN}}
\leg{762}{green!60!white}{-V\sub{A,avg}}
\leg{801}{black}{J\sub{($\nabla\times$B)L}}
\leg{833}{blue}{J\sub{($\nabla\times$B)M}}
\leg{865}{red}{J\sub{($\nabla\times$B)N}}
\leg{905}{black}{j\sub{L}}
\leg{937}{blue}{j\sub{M}}
\leg{969}{red}{j\sub{N}}
\leg{1000}{green}{|j|}
\leg{1039}{black}{J$\cdot$(E+v\sub{e}$\times$B)}
\leg{1072}{blue}{J\sub{par}$\cdot$(E+v\sub{e}$\times$B)\sub{par}}
\leg{1104}{red}{J\sub{perp}$\cdot$(E+v\sub{e}$\times$B)\sub{perp}}
\leg{1174}{blue}{T\sub{eperp}}
\leg{1207}{black}{T\sub{epar}}
\end{tikzpicture}
\end{document}
